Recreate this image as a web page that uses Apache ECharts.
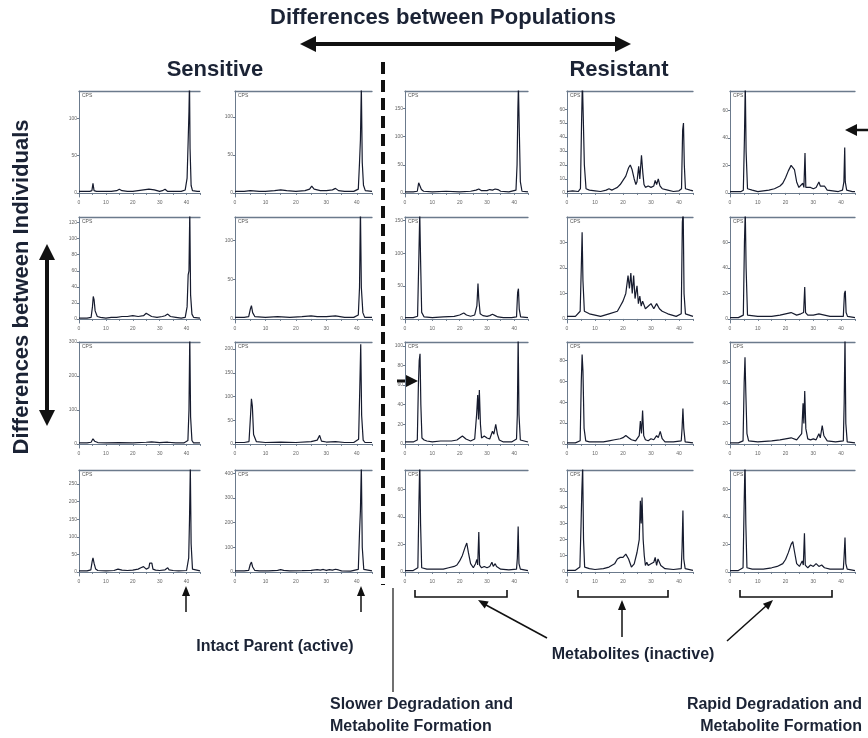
<!DOCTYPE html>
<html><head><meta charset="utf-8">
<script src="https://cdn.jsdelivr.net/npm/echarts@6/dist/echarts.min.js"></script>
<style>html,body{margin:0;padding:0;background:#fff}#c{width:868px;height:738px}</style>
</head><body><div id="c"></div>
<script>
// ---- retention time axis (minutes) ----
const xTicks = [0, 10, 20, 30, 40];
const xMinorTicks = [0, 5, 10, 15, 20, 25, 30, 35, 40, 45];
const xMax = 45;

// ---- chromatogram traces [time, CPS] ----
const sens1_r1 = [[0,2],[2,2],[4,2],[4.8,3],[5.2,13],[5.6,3],[6.5,2],[10,2],[12,2],[14,3],[15,5],[16,3],[18,2],[20,2],[22,3],[24,4],[26,5],[28,4],[29,3],[30,2],[31,3],[32,5],[33,2],[35,2],[38,2],[39.5,4],[40.2,20],[40.6,70],[40.9,110],[41.1,150],[41.3,60],[41.7,10],[42.2,3],[44,2],[45,2]];
const sens2_r1 = [[0,2],[3,2],[5,3],[8,2],[10,2],[13,3],[15,4],[17,3],[20,2],[23,3],[24.5,5],[25.2,9],[26,5],[27,4],[28,3],[30,3],[32,4],[33,6],[34,3],[36,2],[39,2],[40.5,5],[40.9,40],[41.2,70],[41.5,140],[41.8,40],[42.2,10],[42.8,3],[45,2]];
const res1_r1 = [[0,2],[3,2],[4.5,3],[5,18],[5.6,20],[6,6],[6.8,3],[10,2],[15,3],[20,2],[24,3],[26,5],[27,7],[28,4],[30,4],[31,6],[32,5],[33,7],[34,6],[35,3],[38,2],[40.6,5],[41,50],[41.3,150],[41.5,190],[41.8,115],[42.2,20],[42.8,3],[45,2]];
const res2_r1 = [[0,1],[2,1.5],[4,1],[4.8,3],[5.2,50],[5.5,80],[5.8,55],[6.2,20],[6.8,3],[8,2],[10,1.5],[12,1],[14,2],[15,3],[16,2],[17,3],[18,4],[19,6],[20,9],[21,12],[22,18],[22.6,20],[23.2,17],[24,10],[24.6,6],[25,8],[25.6,19],[26,10],[26.6,27],[27.1,14],[27.5,6],[28,4],[29,5],[30,4],[31,5],[31.5,9],[32,6],[32.6,10],[33.2,5],[34,3],[36,2],[38,1],[40,1.5],[40.9,3],[41.3,45],[41.6,50],[41.9,20],[42.3,3],[44,2],[45,1.5]];
const res3_r1 = [[0,1],[2,1],[4,1],[4.8,2],[5.2,40],[5.5,80],[5.8,30],[6.3,3],[8,2],[10,1],[14,2],[16,3],[18,5],[19,7],[20,11],[21,16],[22,20],[22.6,21],[23.2,17],[24,8],[24.8,4],[25.5,5],[26.2,7],[26.6,4],[27,29],[27.3,4],[28,3],[29,4],[30,3],[31,4],[32,8],[32.5,5],[33.2,6],[34,5],[35,2],[37,1.5],[39,1],[40.5,2],[41,8],[41.3,33],[41.5,8],[42,2],[44,1],[45,1]];

const sens1_r2 = [[0,1],[3,1],[4.5,2],[5,15],[5.3,28],[5.6,24],[6,10],[6.8,3],[8,2],[10,1],[12,2],[14,2],[16,3],[18,3],[20,4],[22,3],[24,4],[25,7],[25.5,5],[27,3],[29,2],[31,3],[32,4],[33,6],[34,3],[36,2],[38,1],[39.5,2],[40.2,15],[40.6,55],[40.9,60],[41.2,135],[41.5,30],[42,6],[42.6,2],[45,1]];
const sens2_r2 = [[0,2],[3,2],[4.5,3],[5,12],[5.4,17],[5.8,8],[6.5,3],[10,2],[14,3],[18,2],[22,3],[25,4],[27,3],[30,3],[33,4],[36,2],[39,2],[40.5,5],[40.9,40],[41.2,140],[41.5,40],[42,8],[42.6,2],[45,2]];
const res1_r2 = [[0,2],[3,2],[4.6,4],[5.1,100],[5.4,160],[5.7,90],[6.1,10],[7,3],[10,2],[14,3],[18,4],[20,6],[21.5,9],[22.5,6],[24,4],[25.5,6],[26.3,20],[26.7,54],[27,30],[27.5,8],[28.5,5],[30,4],[31,5],[32,7],[33,5],[34,3],[36,2],[39,2],[40.8,3],[41.2,40],[41.5,46],[41.8,15],[42.3,3],[45,2]];
const res2_r2 = [[0,1],[3,1],[4.7,3],[5.1,20],[5.4,34],[5.7,15],[6.2,3],[8,2],[12,1],[15,2],[18,3],[19,5],[20,7],[21,10],[21.8,17],[22.3,12],[22.8,18],[23.3,10],[23.8,17],[24.3,8],[25,13],[25.5,6],[26,9],[26.5,5],[27,7],[28,4],[29,5],[30,6],[31,4],[32,6],[33,4],[34,3],[36,2],[39,1],[40.8,2],[41.2,38],[41.5,42],[41.8,10],[42.3,2],[45,1]];
const res3_r2 = [[0,1],[3,1],[4.8,3],[5.2,60],[5.5,85],[5.8,40],[6.3,3],[10,2],[15,2],[18,3],[20,4],[22,5],[24,3],[25.5,4],[26.5,5],[26.9,25],[27.2,5],[28,3],[30,3],[32,4],[34,3],[36,2],[40.8,2],[41.2,20],[41.5,22],[41.8,5],[42.3,2],[45,1]];

const sens1_r3 = [[0,3],[3,3],[4.5,5],[5.2,15],[5.8,8],[7,4],[10,3],[15,4],[20,3],[25,5],[27,6],[30,4],[33,5],[36,3],[39,3],[40.5,10],[40.9,100],[41.2,320],[41.5,80],[42,10],[42.6,3],[45,3]];
const sens2_r3 = [[0,3],[3,3],[4.6,5],[5.1,60],[5.4,95],[5.7,80],[6.1,20],[7,5],[10,3],[15,4],[20,3],[25,5],[27,8],[27.8,18],[28.4,6],[30,4],[33,5],[36,3],[39,3],[40.6,10],[41,120],[41.3,210],[41.6,60],[42.1,8],[42.7,3],[45,3]];
const res1_r3 = [[0,2],[3,2],[4.5,4],[4.9,60],[5.2,85],[5.5,92],[5.8,40],[6.2,6],[7,4],[8,3],[10,2],[13,3],[15,3],[17,3],[19,4],[20,6],[21,8],[21.6,9],[22.3,5],[24,3],[25.5,5],[26.2,30],[26.6,50],[26.9,25],[27.2,55],[27.6,20],[28,6],[28.5,4],[29,8],[30,6],[31,5],[32,13],[32.5,10],[33.2,20],[33.8,10],[34.5,4],[36,2],[39,2],[40.8,5],[41.1,30],[41.4,110],[41.7,30],[42.2,4],[45,2]];
const res2_r3 = [[0,1],[3,1],[4.7,3],[5.1,60],[5.4,86],[5.7,70],[6.1,15],[6.7,3],[8,2],[10,2],[13,2],[15,3],[17,4],[19,5],[20,6],[21,8],[22,6],[23,4],[24.5,3],[25.8,8],[26.2,22],[26.6,10],[27,32],[27.4,8],[28,4],[29,3],[30,5],[31,4],[32,8],[32.6,6],[33.3,12],[34,5],[35,2],[38,2],[40.8,3],[41.1,15],[41.4,34],[41.7,15],[42.2,2],[45,1]];
const res3_r3 = [[0,1],[3,1],[4.7,3],[5.1,60],[5.4,85],[5.7,50],[6.1,10],[6.7,3],[10,2],[15,3],[18,4],[20,5],[22,6],[24,4],[25.8,10],[26.3,40],[26.6,20],[26.9,52],[27.3,15],[28,5],[29,4],[30,5],[31,4],[32,10],[32.5,6],[33.2,18],[33.8,8],[35,3],[38,2],[40.8,3],[41.1,40],[41.4,105],[41.7,20],[42.2,2],[45,1]];

const sens1_r4 = [[0,3],[3,3],[4.4,6],[4.9,30],[5.2,40],[5.6,25],[6.2,8],[7,4],[10,3],[13,4],[14.5,8],[16,5],[18,4],[20,5],[22,8],[23,12],[24,15],[25,8],[26,12],[26.3,25],[26.8,20],[27.1,25],[27.5,8],[28.5,5],[30,4],[32,6],[33,12],[33.5,6],[34.2,10],[35,4],[37,3],[40,4],[40.8,40],[41.1,150],[41.4,300],[41.7,80],[42.2,8],[45,3]];
const sens2_r4 = [[0,4],[3,4],[4.5,6],[5,30],[5.4,40],[5.8,20],[6.5,6],[8,4],[11,4],[14,6],[15,9],[16,6],[18,4],[22,5],[25,6],[27,9],[28,7],[29,10],[30,6],[31,9],[32,7],[33,11],[34,8],[35,4],[38,3],[40.5,10],[40.9,160],[41.2,250],[41.5,430],[41.8,100],[42.3,10],[45,4]];
const res1_r4 = [[0,1],[3,1],[4.7,3],[5.1,50],[5.4,80],[5.7,35],[6.1,3],[8,2],[10,2],[14,2],[16,3],[18,4],[19,5],[20,8],[21,12],[22,18],[22.6,21],[23.2,14],[24,6],[25,3],[25.8,6],[26.3,9],[26.6,5],[27,29],[27.3,5],[28,3],[29,4],[30,3],[31,4],[31.8,7],[32.3,4],[33,6],[33.5,4],[35,2],[38,1.5],[40.8,2],[41.1,10],[41.4,33],[41.7,6],[42.2,2],[45,1]];
const res2_r4 = [[0,1],[3,1],[4.6,3],[5,28],[5.3,50],[5.6,65],[5.9,20],[6.3,3],[8,2],[10,1.5],[13,2],[15,3],[17,5],[18,8],[19,9],[20,9],[21,11],[21.5,12],[22,8],[23,3],[24,5],[25,12],[25.8,20],[26.2,44],[26.5,30],[26.8,46],[27.2,20],[27.6,10],[28,4],[28.5,6],[29,4],[30,5],[31,6],[31.5,9],[32,4],[32.5,8],[33,6],[33.5,4],[35,2],[38,1.5],[40.8,2],[41.1,15],[41.4,38],[41.7,8],[42.2,2],[45,1]];
const res3_r4 = [[0,1],[3,1],[4.7,3],[5.1,50],[5.4,80],[5.7,35],[6.1,3],[8,2],[12,2],[15,3],[17,4],[19,6],[20,9],[21,14],[22,20],[22.6,22],[23.2,15],[24,6],[25,4],[26,8],[26.4,5],[26.8,28],[27.1,5],[28,3],[29,5],[30,4],[31,6],[32,4],[33,5],[34,3],[36,2],[40.8,2],[41.1,12],[41.4,25],[41.7,6],[42.2,2],[45,1]];

// ---- y-axis ranges and tick labels, row by row, left to right ----
const yMaxes = [
  137, 134, 181, 73, 74,
  127, 130, 155, 40, 80,
  300, 215, 104, 98, 100,
  290, 413, 74, 63, 74
];
const yTicks = [
  [0,50,100], [0,50,100], [0,50,100,150], [0,10,20,30,40,50,60], [0,20,40,60],
  [0,20,40,60,80,100,120], [0,50,100], [0,50,100,150], [0,10,20,30], [0,20,40,60],
  [0,100,200,300], [0,50,100,150,200], [0,20,40,60,80,100], [0,20,40,60,80], [0,20,40,60,80],
  [0,50,100,150,200,250], [0,100,200,300,400], [0,20,40,60], [0,10,20,30,40,50], [0,20,40,60]
];
const traces = [
  sens1_r1, sens2_r1, res1_r1, res2_r1, res3_r1,
  sens1_r2, sens2_r2, res1_r2, res2_r2, res3_r2,
  sens1_r3, sens2_r3, res1_r3, res2_r3, res3_r3,
  sens1_r4, sens2_r4, res1_r4, res2_r4, res3_r4
];

// ---- layout ----
const colLeft = [79, 235, 405, 567, 730];
const colWidth = [121, 137, 123, 126, 125];
const rowTop = [91, 217, 342, 470];
const rowHeight = 106;

const axisColor = '#6b7a8c';
const traceColor = '#161b2e';
const ink = '#1b2335';
const FONT = '"Liberation Sans", Arial, sans-serif';

const grids = [], xAxes = [], yAxes = [], series = [], graphics = [];
traces.forEach((d, i) => {
  const r = Math.floor(i / 5), c = i % 5;
  const left = colLeft[c], top = rowTop[r];
  grids.push({ left: left, top: top, width: colWidth[c], height: rowHeight, containLabel: false });
  const xi = xAxes.length;
  xAxes.push({
    type: 'value', gridIndex: i, min: 0, max: xMax, interval: 5,
    axisLine: { lineStyle: { color: axisColor, width: 1 } },
    axisTick: { length: 2, customValues: xMinorTicks, lineStyle: { color: axisColor } },
    axisLabel: { fontSize: 5, color: '#666', margin: 3, fontFamily: FONT, customValues: xTicks },
    splitLine: { show: false }
  });
  xAxes.push({
    type: 'value', gridIndex: i, position: 'top', min: 0, max: xMax,
    axisLine: { show: true, lineStyle: { color: axisColor, width: 1.3 } },
    axisTick: { show: false }, axisLabel: { show: false }, splitLine: { show: false }
  });
  const ym = yMaxes[i];
  yAxes.push({
    type: 'value', gridIndex: i, min: -ym * 0.04, max: ym,
    axisLine: { show: true, lineStyle: { color: axisColor, width: 1 } },
    axisTick: { show: true, length: 2, customValues: yTicks[i], lineStyle: { color: axisColor } },
    axisLabel: { fontSize: 5, color: '#666', margin: 2, customValues: yTicks[i], fontFamily: FONT },
    splitLine: { show: false }
  });
  series.push({
    type: 'line', xAxisIndex: xi, yAxisIndex: i, data: d, symbol: 'none',
    lineStyle: { color: traceColor, width: 1.2 }, clip: true, silent: true
  });
  graphics.push({ type: 'text', left: left + 3, top: top + 2,
    style: { text: 'CPS', fontSize: 5, fill: '#555', fontFamily: FONT } });
});

// ---- annotation helpers ----
function arrowHead(tx, ty, fx, fy, len, half) {
  const a = Math.atan2(ty - fy, tx - fx);
  const bx = tx - len * Math.cos(a), by = ty - len * Math.sin(a);
  const px = -Math.sin(a) * half, py = Math.cos(a) * half;
  return { type: 'polygon', shape: { points: [[tx, ty], [bx + px, by + py], [bx - px, by - py]] },
    style: { fill: '#111' } };
}
function line(x1, y1, x2, y2, w, dash) {
  return { type: 'line', shape: { x1, y1, x2, y2 },
    style: { stroke: '#111', lineWidth: w, lineDash: dash || null } };
}
function text(t, x, y, size, align, rot) {
  return { type: 'text', x: x, y: y, rotation: rot || 0,
    style: { text: t, fontSize: size, fontWeight: 'bold', fill: ink, fontFamily: FONT,
      align: align || 'center', verticalAlign: 'middle' } };
}

// titles
graphics.push(text('Differences between Populations', 443, 18, 22));
graphics.push(text('Sensitive', 215, 70, 22));
graphics.push(text('Resistant', 619, 70, 22));
graphics.push(text('Differences between Individuals', 22, 287, 22, 'center', Math.PI / 2));
// horizontal double arrow
graphics.push(line(312, 44, 618, 44, 4));
graphics.push(arrowHead(300, 44, 320, 44, 16, 8));
graphics.push(arrowHead(631, 44, 611, 44, 16, 8));
// vertical double arrow
graphics.push(line(47, 258, 47, 412, 4));
graphics.push(arrowHead(47, 244, 47, 264, 16, 8));
graphics.push(arrowHead(47, 426, 47, 406, 16, 8));
// dashed divider
graphics.push(line(383, 62, 383, 585, 4, [12, 6]));
// thin divider
graphics.push(line(393, 588, 393, 692, 1.2));
// parent arrows
graphics.push(line(186, 612, 186, 596, 1.5));
graphics.push(arrowHead(186, 586, 186, 600, 10, 4));
graphics.push(line(361, 612, 361, 596, 1.5));
graphics.push(arrowHead(361, 586, 361, 600, 10, 4));
graphics.push(text('Intact Parent (active)', 275, 647, 16));
// brackets
[[415, 507], [578, 668], [740, 832]].forEach(b => {
  graphics.push({ type: 'polyline', shape: { points: [[b[0], 590], [b[0], 597], [b[1], 597], [b[1], 590]] },
    style: { stroke: '#111', lineWidth: 1.6, fill: null } });
});
// metabolite arrows
graphics.push(line(547, 638, 486, 605, 1.5));
graphics.push(arrowHead(478, 600, 492, 608, 10, 4));
graphics.push(line(622, 637, 622, 610, 1.5));
graphics.push(arrowHead(622, 600, 622, 612, 10, 4));
graphics.push(line(727, 641, 766, 606, 1.5));
graphics.push(arrowHead(773, 600, 761, 611, 10, 4));
graphics.push(text('Metabolites (inactive)', 633, 655, 16));
// bottom captions
graphics.push(text('Slower Degradation and', 330, 705, 16, 'left'));
graphics.push(text('Metabolite Formation', 330, 727, 16, 'left'));
graphics.push(text('Rapid Degradation and', 862, 705, 16, 'right'));
graphics.push(text('Metabolite Formation', 862, 727, 16, 'right'));
// side arrows
graphics.push(line(868, 130, 856, 130, 2.5));
graphics.push(arrowHead(845, 130, 858, 130, 12, 6));
graphics.push(line(397, 381, 407, 381, 3));
graphics.push(arrowHead(418, 381, 405, 381, 12, 6));

const chart = echarts.init(document.getElementById('c'), null, { renderer: 'canvas' });
chart.setOption({
  animation: false,
  backgroundColor: '#fff',
  grid: grids, xAxis: xAxes, yAxis: yAxes, series: series, graphic: graphics
});
</script></body></html>
